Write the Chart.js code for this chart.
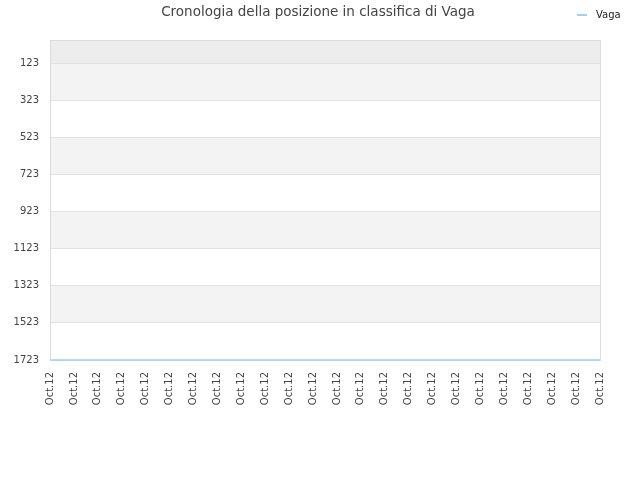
<!DOCTYPE html>
<html>
<head>
<meta charset="utf-8">
<script src="https://cdn.jsdelivr.net/npm/chart.js@4.4.0/dist/chart.umd.min.js"></script>
<style>
  html, body { margin: 0; padding: 0; background: #fff; }
</style>
</head>
<body>
<canvas id="rank_chart" width="640" height="480"></canvas>
<script>
// Data
var chartTitle = "Cronologia della posizione in classifica di Vaga";
var seriesName = "Vaga";
var dates = ["Oct.12", "Oct.12", "Oct.12", "Oct.12", "Oct.12", "Oct.12", "Oct.12", "Oct.12",
             "Oct.12", "Oct.12", "Oct.12", "Oct.12", "Oct.12", "Oct.12", "Oct.12", "Oct.12",
             "Oct.12", "Oct.12", "Oct.12", "Oct.12", "Oct.12", "Oct.12", "Oct.12", "Oct.12"];
var positions = [1723, 1723, 1723, 1723, 1723, 1723, 1723, 1723,
                 1723, 1723, 1723, 1723, 1723, 1723, 1723, 1723,
                 1723, 1723, 1723, 1723, 1723, 1723, 1723, 1723];
var rankTicks = [123, 323, 523, 723, 923, 1123, 1323, 1523, 1723];

var lineColor = "#9fd0f5";

// gray bands behind the plot, plus the title and the little legend
var bandsPlugin = {
  id: "bands",
  beforeDraw: function (chart) {
    var ctx = chart.ctx, area = chart.chartArea, y = chart.scales.y;
    ctx.save();
    // strip above the first tick
    var top = y.getPixelForValue(rankTicks[0]);
    ctx.fillStyle = "#ededed";
    ctx.fillRect(area.left, area.top, area.right - area.left, top - area.top);
    for (var i = 0; i < rankTicks.length - 1; i++) {
      if (i % 2 === 0) {
        var a = y.getPixelForValue(rankTicks[i]);
        var b = y.getPixelForValue(rankTicks[i + 1]);
        ctx.fillStyle = "#f3f3f3";
        ctx.fillRect(area.left, a, area.right - area.left, b - a);
      }
    }
    ctx.restore();
  },
  beforeDatasetsDraw: function (chart) {
    // frame goes under the line so the line stays visible at the bottom
    var ctx = chart.ctx, area = chart.chartArea;
    ctx.save();
    ctx.strokeStyle = "#dcdcdc";
    ctx.lineWidth = 1;
    ctx.strokeRect(Math.round(area.left) + 0.5, Math.round(area.top) + 0.5,
                   Math.round(area.right - area.left), Math.round(area.bottom - area.top));
    ctx.restore();
  },
  afterDraw: function (chart) {
    var ctx = chart.ctx;
    ctx.save();
    // title
    ctx.fillStyle = "#444";
    ctx.font = "13.5px 'DejaVu Sans', sans-serif";
    ctx.textAlign = "center";
    ctx.textBaseline = "middle";
    ctx.fillText(chartTitle, 318, 12);
    // legend
    ctx.strokeStyle = lineColor;
    ctx.lineWidth = 2;
    ctx.beginPath();
    ctx.moveTo(577, 15);
    ctx.lineTo(587, 15);
    ctx.stroke();
    ctx.fillStyle = "#222";
    ctx.font = "10px 'DejaVu Sans', sans-serif";
    ctx.textAlign = "left";
    ctx.fillText(seriesName, 596, 15);
    ctx.restore();
  }
};

var ctx = document.getElementById("rank_chart").getContext("2d");
var chart = new Chart(ctx, {
  type: "line",
  data: {
    labels: dates,
    datasets: [{
      label: seriesName,
      data: positions,
      borderColor: lineColor,
      backgroundColor: lineColor,
      borderWidth: 1.5,
      pointRadius: 0,
      tension: 0,
      clip: false
    }]
  },
  options: {
    responsive: false,
    animation: false,
    devicePixelRatio: 1,
    layout: { padding: { top: 40, right: 40, left: 0, bottom: 0 } },
    plugins: {
      legend: { display: false },
      title: { display: false },
      tooltip: { enabled: false }
    },
    scales: {
      x: {
        offset: false,
        grid: { display: false },
        border: { display: false },
        ticks: {
          color: "#444",
          font: { family: "'DejaVu Sans', sans-serif", size: 10 },
          maxRotation: 90,
          minRotation: 90,
          autoSkip: false,
          padding: 4
        },
        afterFit: function (s) { s.height = 120; }
      },
      y: {
        reverse: true,
        min: -1,
        max: 1723,
        grid: { color: "#e2e2e2", drawTicks: false },
        border: { display: false },
        ticks: {
          color: "#444",
          font: { family: "'DejaVu Sans', sans-serif", size: 10 },
          padding: 11,
          callback: function (v) { return String(v); }
        },
        afterBuildTicks: function (s) {
          s.ticks = rankTicks.map(function (v) { return { value: v }; });
        },
        afterFit: function (s) { s.width = 50; }
      }
    }
  },
  plugins: [bandsPlugin]
});
</script>
</body>
</html>
